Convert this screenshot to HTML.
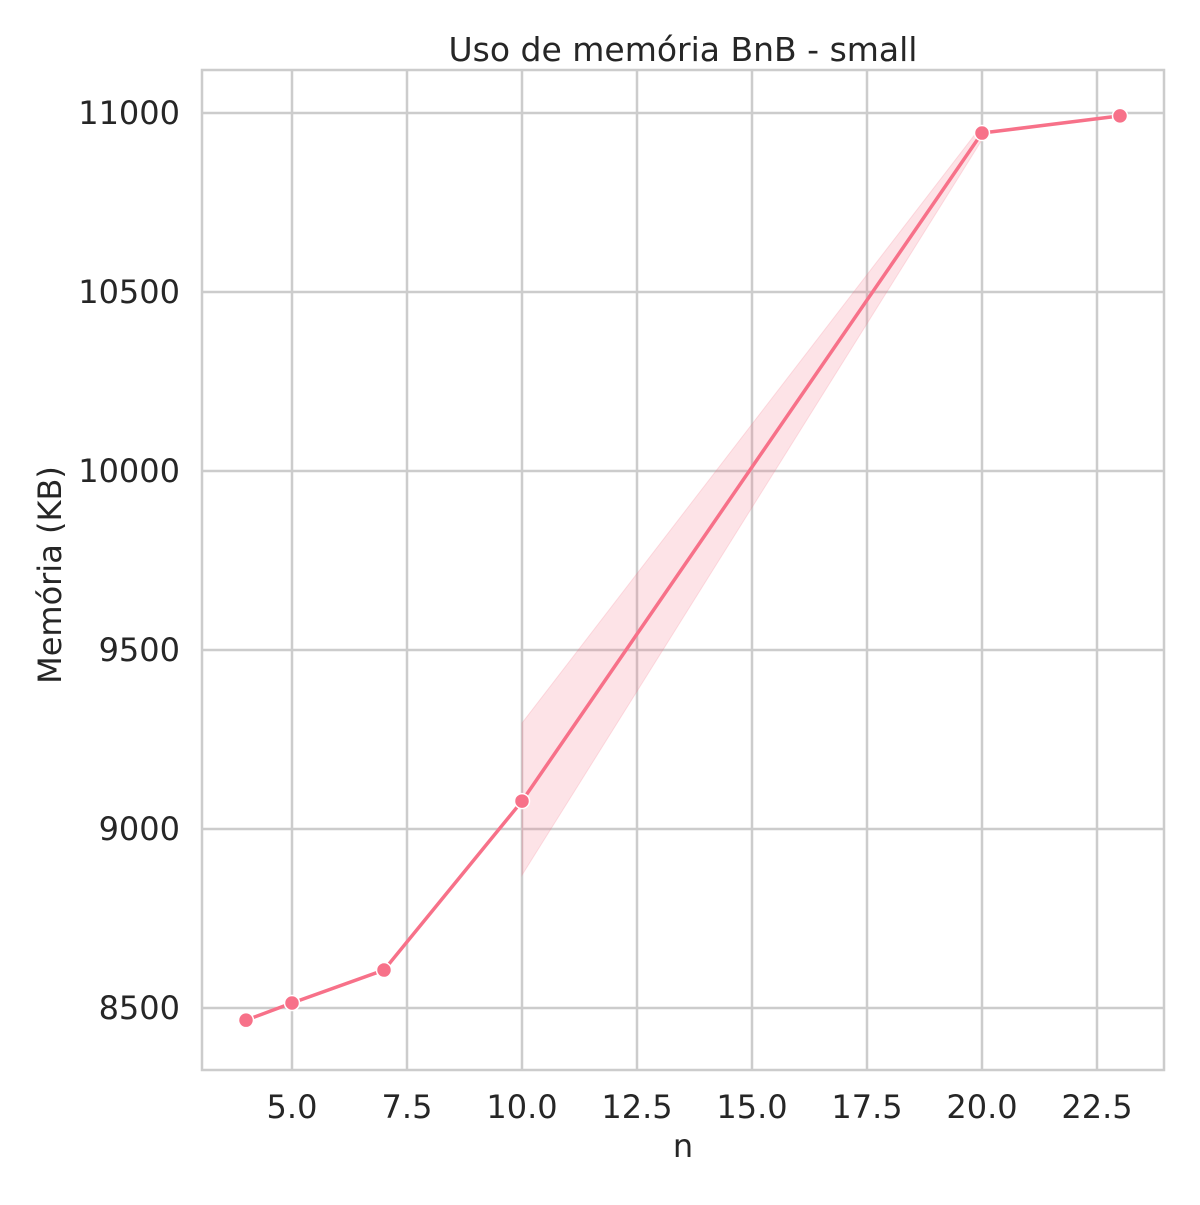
<!DOCTYPE html>
<html><head><meta charset="utf-8"><style>
body{margin:0;background:#fff}
svg text{font-family:"DejaVu Sans","Liberation Sans",sans-serif;fill:#262626}
</style></head><body>
<svg id="chart" width="1200" height="1200" xmlns="http://www.w3.org/2000/svg">
<rect width="1200" height="1200" fill="#fff"/>
<g id="grid"></g>
<g id="band"></g>
<g id="line"></g>
<g id="ticks"></g>
<rect x="202" y="70" width="962" height="1000" fill="none" stroke="#cccccc" stroke-width="2.5"/>
<text x="683" y="61" font-size="33" text-anchor="middle">Uso de memória BnB - small</text>
<text x="683" y="1157" font-size="32" text-anchor="middle">n</text>
<text transform="translate(61,575) rotate(-90)" font-size="32" text-anchor="middle">Memória (KB)</text>
</svg>
<script>
const xValues=[4,5,7,10,20,23];
const yValues=[8466,8514,8606,9078,10944,10992];
const bandX=[10,20];
const bandLow=[8871,10925];
const bandHigh=[9296,10966];
const xTicks=[5,7.5,10,12.5,15,17.5,20,22.5];
const xTickLabels=["5.0","7.5","10.0","12.5","15.0","17.5","20.0","22.5"];
const yTicks=[8500,9000,9500,10000,10500,11000];
const yTickLabels=["8500","9000","9500","10000","10500","11000"];
const sx=v=>292+(v-5)*46;
const sy=v=>1008-(v-8500)*179/500;
const NS="http://www.w3.org/2000/svg";
function mk(tag,attrs,parent){const e=document.createElementNS(NS,tag);for(const k in attrs)e.setAttribute(k,attrs[k]);document.getElementById(parent).appendChild(e);return e;}
xTicks.forEach((t,i)=>{
 const l=mk('line',{x1:sx(t),x2:sx(t),y1:70,y2:1070,stroke:'#cccccc','stroke-width':2.5},'grid');
 
 
 const tx=mk('text',{x:sx(t),y:1118,'font-size':32,'text-anchor':'middle'},'ticks');
 tx.textContent=xTickLabels[i];
 
 
});
yTicks.forEach((t,i)=>{
 const l=mk('line',{x1:202,x2:1164,y1:sy(t),y2:sy(t),stroke:'#cccccc','stroke-width':2.5},'grid');
 
 
 const tx=mk('text',{x:180,y:sy(t)+11,'font-size':32,'text-anchor':'end'},'ticks');
 tx.textContent=yTickLabels[i];
 
 
});
let pts=bandX.map((x,i)=>sx(x)+','+sy(bandHigh[i]));
for(let i=bandX.length-1;i>=0;i--)pts.push(sx(bandX[i])+','+sy(bandLow[i]));
const poly=mk('polygon',{points:pts.join(' '),fill:'#f77189','fill-opacity':0.2,stroke:'#f77189','stroke-opacity':0.2},'band');


const pl=mk('polyline',{points:xValues.map((x,i)=>sx(x)+','+sy(yValues[i])).join(' '),fill:'none',stroke:'#f77189','stroke-width':3.5},'line');


xValues.forEach((x,i)=>{
 const c=mk('circle',{cx:sx(x),cy:sy(yValues[i]),r:7.5,fill:'#f77189',stroke:'#fff','stroke-width':1.5},'line');
 
 
});
</script>
</body></html>
